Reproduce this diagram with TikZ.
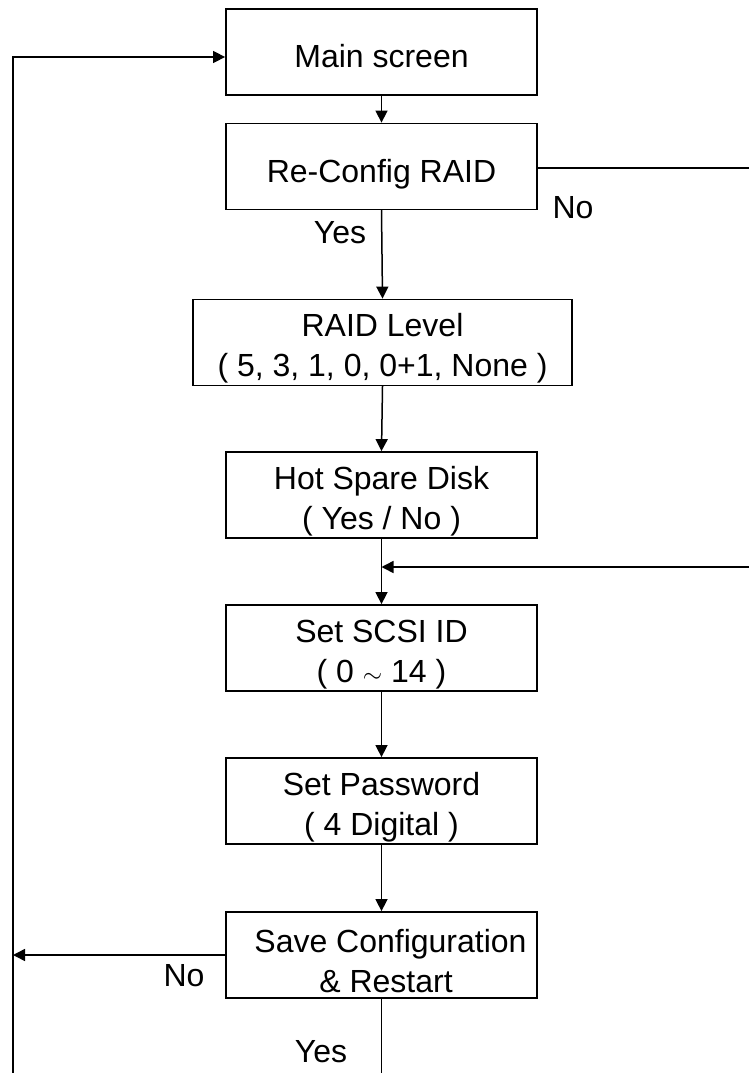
\documentclass[tikz,border=0pt]{standalone}
\usepackage{fontspec}
\setmainfont{Liberation Sans}
\usetikzlibrary{arrows.meta}
\newcommand\toprule{\rule{0pt}{35pt}}

\begin{document}
\begin{tikzpicture}[x=1pt,y=-1pt,line cap=rect]
  \tikzstyle{menu}=[draw,line width=1.8,minimum width=311,minimum height=86,inner sep=0,align=center,font=\fontsize{32}{40}\selectfont];
  \tikzstyle{single}=[text height=31pt,text depth=0pt];
  \tikzstyle{flow}=[line width=1.5,-{Triangle[length=12pt,width=12pt]}];
  \tikzstyle{answer}=[font=\fontsize{32}{40}\selectfont];
  \useasboundingbox (0,0) rectangle (748,1073);

  % menu boxes
  \node[menu,single] (main) at (381.5,52) {Main screen};
  \node[menu,single] (recfg) at (381.5,166.5) {Re-Config RAID};
  \node[menu,minimum width=379] (raid) at (382.5,342.5) {\toprule RAID Level\\( 5, 3, 1, 0, 0+1, None )};
  \node[menu] (hot) at (381.5,495) {\toprule Hot Spare Disk\\( Yes / No )};
  \node[menu] (scsi) at (381.5,648) {\toprule Set SCSI ID\\( 0 $\sim$ 14 )};
  \node[menu] (pwd) at (381.5,801) {\toprule Set Password\\( 4 Digital )};
  \node[menu] (save) at (381.5,955) {\toprule\hspace*{18pt}Save Configuration\\\hspace*{9pt}\& Restart};

  % answers
  \node[answer] (no1) at (573,208) {No};
  \node[answer] (yes1) at (340,233) {Yes};
  \node[answer] (no2) at (184,976) {No};
  \node[answer] (yes2) at (321,1052) {Yes};

  % loop lines
  \coordinate (ltop) at (13,57);
  \coordinate (lbot) at (13,1073);
  \coordinate (rout) at (748,168);
  \coordinate (rin) at (748,567);
  \draw[flow] (lbot) -- (ltop) -- (ltop -| main.west);
  \draw[line width=1.5] (recfg.east |- rout) -- (rout);
  \draw[flow] (rin) -- (rin -| hot.south);
  \draw[flow] (save.west) -- (save.west -| lbot);
  \draw[line width=1.5] (save.south) -- (save.south |- lbot);

  % down the chain
  \foreach \a/\b in {main/recfg,recfg/raid,raid/hot,hot/scsi,scsi/pwd,pwd/save}
    \draw[flow] (\a.south) -- (\b.north);
\end{tikzpicture}
\end{document}
